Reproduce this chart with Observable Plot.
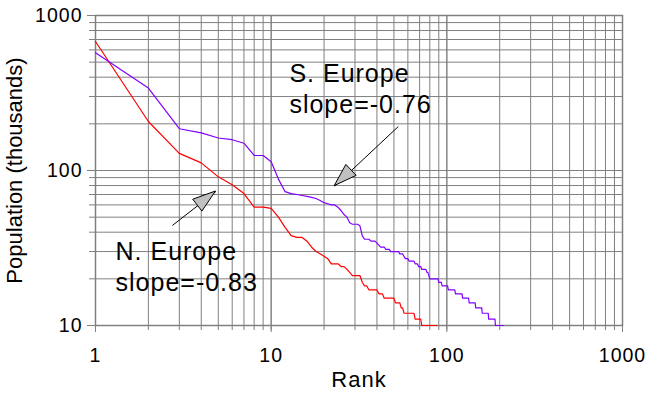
<!DOCTYPE html>
<html>
<head>
<meta charset="utf-8">
<script src="https://cdn.jsdelivr.net/npm/d3@7"></script>
<script src="https://cdn.jsdelivr.net/npm/@observablehq/plot@0.6"></script>
<style>
  html, body { margin: 0; padding: 0; background: #fff; }
  #chart svg text { letter-spacing: 1px; }
  #chart svg text[transform*="rotate"] { letter-spacing: 0px; }
</style>
</head>
<body>
<div id="chart"></div>
<script>
// N. Europe (red): rank -> population (thousands)
const northRanks = [1,2,3,4,5,6,7,8,9,10,11,12,13,14,15,16,17,18,19,20,21,22,23,24,25,26,27,28,29,30,31,32,33,34,35,36,40,41,43,44,50,51,54,55,56,57,65,66,71,72,88];
const northPops  = [680,207,129,112,91,81,71,58,58,57,50,43,38,37,37,35,32,30,29,28,27,25,25,25,24,24,23,22,21,21,21,21,19,18,18,17,17,16,16,15,15,14,14,13,13,12,12,11,11,10,10];

// S. Europe (purple)
const southRanks = [1,2,3,4,5,6,7,8,9,10,11,12,13,14,15,16,17,18,19,20,21,22,23,24,25,26,27,28,29,30,31,32,33,34,35,36,37,39,40,41,42,44,45,47,48,53,54,56,57,58,60,61,65,66,68,69,71,72,76,77,78,79,80,89,90,93,94,101,102,111,112,122,123,133,134,145,146,158,159,172,173,188,189,211];
const southPops  = [574,340,186,175,162,158,150,125,125,114,88,73,71,70,69,68,67,66,64,62,61,60,60,58,55,52,50,46,45,45,45,44,38,36,36,36,35,35,34,33,32,32,31,31,30,30,29,29,28,27,27,26,26,25,25,24,24,23,23,22,22,21,20,20,19,19,18,18,17,17,16,16,15,15,14,14,13,13,12,12,11,11,10,10];

// Grid / tick values
const xGrid = [1,2,3,4,5,6,7,8,9,10,20,30,40,50,60,70,80,90,100,200,300,400,500,600,700,800,900,1000];
const yGrid = [10,20,30,40,50,60,70,80,90,100,200,300,400,500,600,700,800,900,1000];
const xLabels = [1,10,100,1000];
const yLabels = [10,100,1000];

// Annotations (data coordinates)
const labelText = ["S. Europe\nslope=-0.76", "N. Europe\nslope=-0.83"];
const labelRank = [12.7, 1.30];
const labelPop  = [513, 36.8];
const arrowFromRank = [52.9, 2.74];
const arrowFromPop  = [192, 44.2];
const arrowToRank   = [23.0, 4.85];
const arrowToPop    = [79.3, 73.2];

const north = northRanks.map((r, i) => ({rank: r, pop: northPops[i]}));
const south = southRanks.map((r, i) => ({rank: r, pop: southPops[i]}));
const labels = labelText.map((t, i) => ({text: t, rank: labelRank[i], pop: labelPop[i]}));
const arrows = arrowFromRank.map((r, i) => ({x1: r, y1: arrowFromPop[i], x2: arrowToRank[i], y2: arrowToPop[i]}));

const gridColor = "#808080";

const chart = Plot.plot({
  width: 645,
  height: 395,
  marginLeft: 95,
  marginRight: 23,
  marginTop: 15,
  marginBottom: 70,
  style: {fontFamily: "'Liberation Sans', Arial, sans-serif", background: "#fff", overflow: "visible"},
  x: {type: "log", domain: [1, 1000], axis: null},
  y: {type: "log", domain: [10, 1000], axis: null},
  marks: [
    Plot.ruleX(xGrid, {x: d => d, stroke: gridColor, strokeWidth: 1, insetBottom: -5}),
    Plot.ruleX(xLabels, {x: d => d, stroke: gridColor, strokeWidth: 1, insetBottom: -7}),
    Plot.ruleY(yGrid, {y: d => d, stroke: gridColor, strokeWidth: 1, insetLeft: -6}),
    Plot.ruleY(yLabels, {y: d => d, stroke: gridColor, strokeWidth: 1, insetLeft: -8}),
    Plot.frame({stroke: gridColor, strokeWidth: 1.5}),
    Plot.text(xLabels, {x: d => d, frameAnchor: "bottom", lineAnchor: "top", dy: 23, text: d => String(d), fontSize: 19.5, fill: "#000"}),
    Plot.text(yLabels, {y: d => d, frameAnchor: "left", textAnchor: "end", lineAnchor: "middle", dx: -13, text: d => String(d), fontSize: 19.5, fill: "#000"}),
    Plot.text(["Rank"], {frameAnchor: "bottom", lineAnchor: "top", dy: 46, text: d => d, fontSize: 22, fill: "#000"}),
    Plot.text(["Population (thousands)"], {frameAnchor: "left", textAnchor: "middle", rotate: -90, lineAnchor: "middle", dx: -81, text: d => d, fontSize: 22, fill: "#000"}),
    Plot.line(north, {x: "rank", y: "pop", stroke: "#ff0000", strokeWidth: 1.2}),
    Plot.line(south, {x: "rank", y: "pop", stroke: "#8000ff", strokeWidth: 1.2}),
    Plot.link(arrows, {x1: "x1", y1: "y1", x2: "x2", y2: "y2", stroke: "#000", strokeWidth: 1}),
    Plot.text(labels, {x: "rank", y: "pop", text: "text", textAnchor: "start", lineAnchor: "top", lineHeight: 1.24, fontSize: 25, fill: "#000"})
  ]
});

// Arrowheads: filled grey triangles placed through the chart's own scales
const sx = chart.scale("x"), sy = chart.scale("y");
const svg = d3.select(chart);
arrows.forEach(a => {
  const x1 = sx.apply(a.x1), y1 = sy.apply(a.y1);
  const x2 = sx.apply(a.x2), y2 = sy.apply(a.y2);
  const dx = x2 - x1, dy = y2 - y1, len = Math.hypot(dx, dy);
  const ux = dx / len, uy = dy / len;
  const L = 23, W = 7.5;
  const bx = x2 - ux * L, by = y2 - uy * L;
  const pts = [[x2, y2], [bx - uy * W, by + ux * W], [bx + uy * W, by - ux * W]];
  svg.append("polygon")
    .attr("points", pts.map(p => p.join(",")).join(" "))
    .attr("fill", "#c0c0c0")
    .attr("stroke", "#000")
    .attr("stroke-width", 1);
});

document.getElementById("chart").appendChild(chart);
</script>
</body>
</html>
